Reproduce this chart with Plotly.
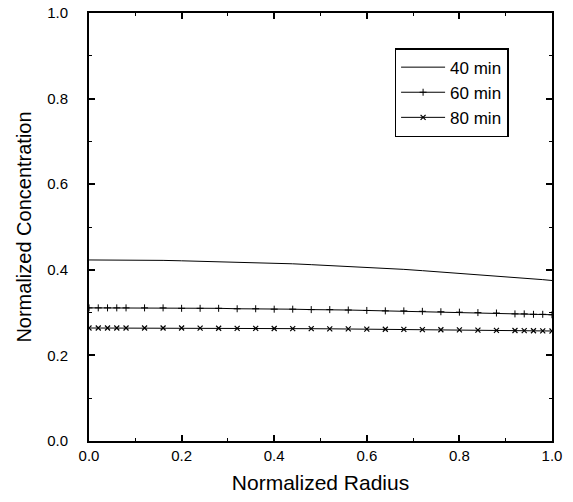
import plotly.graph_objects as go

radius = [0.00, 0.02, 0.04, 0.06, 0.08, 0.12, 0.16, 0.20, 0.24, 0.28,
          0.32, 0.36, 0.40, 0.44, 0.48, 0.52, 0.56, 0.60, 0.64, 0.68,
          0.72, 0.76, 0.80, 0.84, 0.88, 0.92, 0.94, 0.96, 0.98, 1.00]

conc_40 = [0.423, 0.423, 0.423, 0.423, 0.423, 0.422, 0.422, 0.421, 0.420, 0.419,
           0.418, 0.417, 0.415, 0.414, 0.412, 0.410, 0.408, 0.406, 0.403, 0.401,
           0.398, 0.395, 0.392, 0.389, 0.386, 0.382, 0.381, 0.379, 0.377, 0.375]

conc_60 = [0.311, 0.311, 0.311, 0.311, 0.311, 0.311, 0.311, 0.310, 0.310, 0.310,
           0.309, 0.309, 0.308, 0.308, 0.307, 0.307, 0.306, 0.305, 0.304, 0.304,
           0.303, 0.302, 0.301, 0.300, 0.299, 0.297, 0.297, 0.296, 0.296, 0.295]

conc_80 = [0.264, 0.264, 0.264, 0.264, 0.264, 0.264, 0.264, 0.264, 0.2636, 0.2635,
           0.2633, 0.2631, 0.2629, 0.2626, 0.2624, 0.2621, 0.2618, 0.2615, 0.2611, 0.2608,
           0.2604, 0.2600, 0.2595, 0.2591, 0.2586, 0.2581, 0.2578, 0.2575, 0.2573, 0.2570]

names = ["40 min", "60 min", "80 min"]
x_ticks = [0.0, 0.2, 0.4, 0.6, 0.8, 1.0]
y_ticks = [0.0, 0.2, 0.4, 0.6, 0.8, 1.0]

FONT = "Liberation Sans, Arial, sans-serif"

fig = go.Figure()
fig.add_trace(go.Scatter(x=radius, y=conc_40, name=names[0], mode="lines",
                         legendgroup="a",
                         line=dict(color="black", width=1)))
fig.add_trace(go.Scatter(x=radius, y=conc_60, name=names[1], mode="lines+markers",
                         legendgroup="b",
                         line=dict(color="black", width=1),
                         marker=dict(symbol="cross-thin", size=5,
                                     line=dict(color="black", width=1))))
fig.add_trace(go.Scatter(x=radius, y=conc_80, name=names[2], mode="lines+markers",
                         legendgroup="c",
                         line=dict(color="black", width=1),
                         marker=dict(symbol="x-thin", size=5,
                                     line=dict(color="black", width=1.2))))

axis_common = dict(
    showline=True, linecolor="black", linewidth=2, mirror="allticks",
    ticks="inside", ticklen=6, tickwidth=1.5, tickcolor="black",
    showgrid=False, zeroline=False, automargin=False,
    tickfont=dict(family=FONT, size=15, color="black"),
    minor=dict(ticks="inside", ticklen=3, tickwidth=1, tickcolor="black", dtick=0.1),
    tickformat=".1f", range=[0, 1],
)

fig.update_xaxes(tickvals=x_ticks,
                 title=dict(text="Normalized Radius", standoff=12,
                            font=dict(family=FONT, size=21, color="black")),
                 **axis_common)
fig.update_yaxes(tickvals=y_ticks, ticklabelstandoff=16,
                 title=dict(text="Normalized Concentration", standoff=10,
                            font=dict(family=FONT, size=20, color="black")),
                 **axis_common)

fig.update_layout(
    width=573, height=502,
    margin=dict(l=89, r=21, t=13, b=61),
    plot_bgcolor="white", paper_bgcolor="white",
    showlegend=True,
    legend=dict(x=0.66, y=0.918, xanchor="left", yanchor="top",
                traceorder="grouped", tracegroupgap=0,
                bordercolor="black", borderwidth=1.5, bgcolor="white",
                font=dict(family=FONT, size=17, color="black"),
                itemwidth=44),
)

fig.write_html("out.html", post_script="document.body.style.margin='0px';",
               config={"displayModeBar": False})
